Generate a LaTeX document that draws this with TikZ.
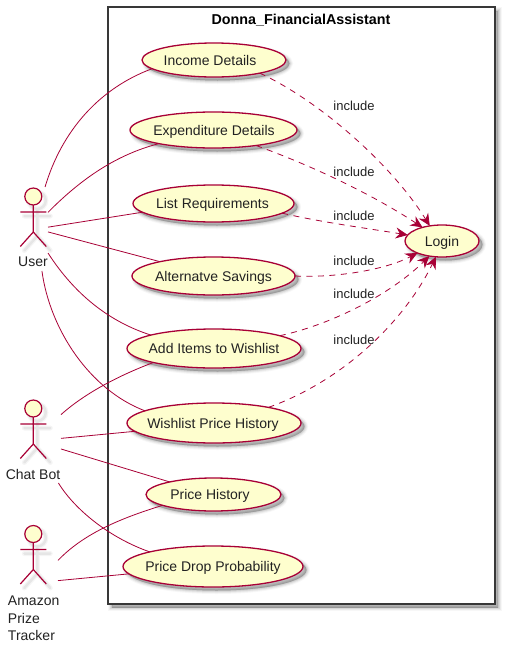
\documentclass[tikz,border=0pt]{standalone}
\usepackage{fontspec}
\setmainfont{Liberation Sans}
\usetikzlibrary{shapes.geometric,arrows.meta}
\definecolor{umlline}{HTML}{A80036}
\definecolor{umlfill}{HTML}{FEFECE}
\definecolor{umltext}{HTML}{222222}
\definecolor{umlbox}{HTML}{383838}
\newcommand{\uctext}[2]{\raisebox{-.36em}[0pt][0pt]{\makebox[0pt]{\kern#1\relax #2\kern-#1\relax}}}
\tikzset{
  softshadow/.style={
    preaction={draw=black,line width=7pt,draw opacity=.03,transform canvas={xshift=3.5pt,yshift=-3.5pt}},
    preaction={draw=black,line width=5pt,draw opacity=.05,transform canvas={xshift=3.5pt,yshift=-3.5pt}},
    preaction={draw=black,line width=3pt,draw opacity=.07,transform canvas={xshift=3.5pt,yshift=-3.5pt}},
    preaction={draw=black,line width=1pt,draw opacity=.08,transform canvas={xshift=3.5pt,yshift=-3.5pt}},
    preaction={fill=black,fill opacity=.24,transform canvas={xshift=3.5pt,yshift=-3.5pt}}},
  usecase/.style={ellipse,draw=umlline,line width=1.3pt,fill=umlfill,inner sep=0pt,outer sep=0pt,
    text=umltext,font=\fontsize{14}{17}\selectfont,softshadow},
  actorbox/.style={rectangle,inner sep=0pt,outer sep=0pt,draw=none,fill=none},
  assoc/.style={draw=umlline,line width=.8pt},
  incl/.style={draw=umlline,line width=.8pt,dash pattern=on 6pt off 5.5pt,
    -{Stealth[length=12pt,width=11pt,inset=4pt]}},
  txt/.style={text=umltext,font=\fontsize{14}{17}\selectfont,inner sep=0pt,outer sep=0pt},
  lbl/.style={text=umltext,font=\fontsize{13}{16}\selectfont,inner sep=0pt,outer sep=0pt},
  actorpic/.pic={
    \path[preaction={draw=black,draw opacity=.04,line width=5pt,line cap=round,transform canvas={xshift=4pt,yshift=-4pt}},
          preaction={draw=black,draw opacity=.06,line width=2.5pt,line cap=round,transform canvas={xshift=4pt,yshift=-4pt}}]
      (0,0) circle (8.5) (-13,15.5) -- (13,15.5) (0,8.5) -- (0,35.5) -- (-13,50) (0,35.5) -- (13,50);
    \draw[draw=umlline,line width=1.2pt,fill=umlfill] (0,0) circle (8.5);
    \draw[draw=umlline,line width=1.2pt] (-13,15.5) -- (13,15.5) (0,8.5) -- (0,35.5) -- (-13,50) (0,35.5) -- (13,50);
  }
}
\begin{document}
\begin{tikzpicture}[x=1pt,y=-1pt]
\useasboundingbox (0,0) rectangle (506,648);
\fill[white] (0,0) rectangle (506,648);
% system box
\path[draw=umlbox,fill=white,line width=2pt,softshadow] (108,7) rectangle (494.5,604);
\node[font=\fontsize{14.3}{17}\selectfont\bfseries,text=black,inner sep=0pt] (title) at (301,20) {Donna\_FinancialAssistant};
% actors
\pic at (33.3,196.5) {actorpic};
\pic at (33.3,408.5) {actorpic};
\pic at (33.3,534) {actorpic};
\node[actorbox,minimum width=30pt,minimum height=84pt] (user) at (33,229) {};
\node[actorbox,minimum width=56pt,minimum height=70pt] (chat) at (33,448) {};
\node[actorbox,minimum width=50pt,minimum height=60pt] (amazon) at (33,570) {};
\node[txt] (userlabel) at (33,262) {User};
\node[txt] (chatlabel) at (33,474) {Chat Bot};
\node[txt,align=left,anchor=north west,font=\fontsize{14}{17.6}\selectfont] (amazonlabel) at (8,596) {Amazon\\Prize\\Tracker};
% use cases
\node[usecase,minimum width=144pt,minimum height=34pt] (income) at (214,60) {\uctext{-4pt}{Income Details}};
\node[usecase,minimum width=167pt,minimum height=36pt] (expend) at (213.5,130) {\uctext{.5pt}{Expenditure Details}};
\node[usecase,minimum width=161pt,minimum height=37pt] (list) at (213.5,203.5) {\uctext{-1pt}{List Requirements}};
\node[usecase,minimum width=163pt,minimum height=38pt] (alt) at (213.5,276) {\uctext{0pt}{Alternatve Savings}};
\node[usecase,minimum width=174pt,minimum height=39pt] (add) at (214,348.5) {\uctext{0pt}{Add Items to Wishlist}};
\node[usecase,minimum width=174pt,minimum height=40pt] (wph) at (214,423) {\uctext{-1pt}{Wishlist Price History}};
\node[usecase,minimum width=135pt,minimum height=33pt] (ph) at (213.5,494.5) {\uctext{-3.5pt}{Price History}};
\node[usecase,minimum width=180pt,minimum height=41pt] (pd) at (213,566.5) {\uctext{0pt}{Price Drop Probability}};
\node[usecase,minimum width=74pt,minimum height=32pt] (login) at (442,241) {\uctext{0pt}{Login}};
% associations
\draw[assoc] (user.74) .. controls (62,130) and (100,88) .. (income.188);
\draw[assoc] (user.48.6) .. controls (80,180) and (115,155) .. (expend.194);
\draw[assoc] (user.7.6) -- (list.187);
\draw[assoc] (user.-11) -- (alt.165);
\draw[assoc] (user.-58) .. controls (75,295) and (110,322) .. (add.168.5);
\draw[assoc] (user.-78) .. controls (50,330) and (90,390) .. (wph.170);
\draw[assoc] (chat.50.5) .. controls (85,393) and (120,375) .. (add.193);
\draw[assoc] (chat.19.65) -- (wph.186);
\draw[assoc] (chat.-2) -- (ph.164);
\draw[assoc] (chat.-54.5) .. controls (75,510) and (110,538) .. (pd.167.5);
\draw[assoc] (amazon.21.8) .. controls (85,532) and (125,517) .. (ph.192);
\draw[assoc] (amazon.-23.7) -- (pd.185.6);
% includes
\draw[incl] (income.-16) .. controls (320,101) and (392,165) .. (login.129);
\draw[incl] (expend.-20) .. controls (310,165) and (370,193) .. (login.145);
\draw[incl] (list.-8.6) .. controls (320,222) and (365,228) .. (login.170);
\draw[incl] (alt.-.7) .. controls (335,278) and (385,270) .. (login.206.5);
\draw[incl] (add.11) .. controls (330,325) and (390,295) .. (login.230);
\draw[incl] (wph.16) .. controls (345,380) and (405,320) .. (login.249);
\node[lbl] (inc1) at (354,106) {include};
\node[lbl] (inc2) at (354,172) {include};
\node[lbl] (inc3) at (354,216) {include};
\node[lbl] (inc4) at (354,261) {include};
\node[lbl] (inc5) at (354,294) {include};
\node[lbl] (inc6) at (354,340) {include};
\end{tikzpicture}
\end{document}
